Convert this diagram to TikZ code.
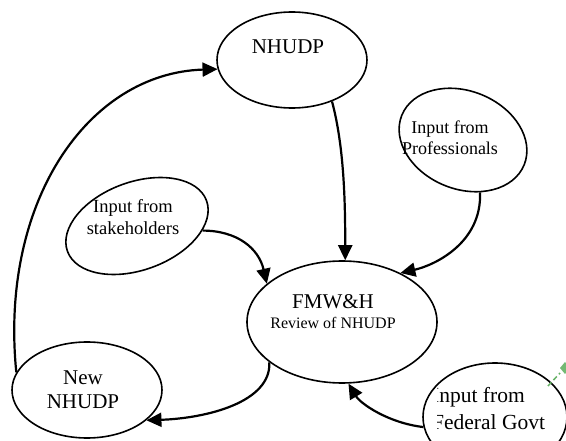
\documentclass[tikz,border=0pt]{standalone}
\usepackage{fontspec}
\setmainfont{Liberation Serif}
\usetikzlibrary{shapes.geometric,arrows.meta}
\tikzset{
  ell/.style={draw, ellipse, line width=1.6pt, inner sep=0pt, fill=white},
  conn/.style={line width=2.2pt, -{Triangle[length=15pt,width=14pt]}},
  lbl/.style={inner sep=0pt, align=center},
}
\begin{document}
\begin{tikzpicture}[x=1pt,y=-1pt]
\clip (0,0) rectangle (566,441);
\fill[white] (0,0) rectangle (566,441);
% ellipses
\node[ell, minimum width=150pt, minimum height=96pt] (nh) at (292,60) {};
\node[ell, minimum width=132pt, minimum height=98pt, rotate=-22] (prof) at (463,140) {};
\node[ell, minimum width=148pt, minimum height=88pt, rotate=20] (stk) at (137,226) {};
\node[ell, minimum width=190pt, minimum height=122pt] (fmw) at (342,322) {};
\node[ell, minimum width=150pt, minimum height=96pt] (new) at (87,390) {};
\node[ell, minimum width=144pt, minimum height=108pt] (fed) at (495,417) {};
% labels
\node[lbl, font=\fontsize{21}{24}\selectfont] (tnh) at (288,47) {NHUDP};
\node[lbl, font=\fontsize{18}{21}\selectfont] (tprof) at (450,137.5) {Input from\\Professionals};
\node[lbl, font=\fontsize{18.5}{22}\selectfont] (tstk) at (133,217) {Input from\\stakeholders};
\node[lbl, font=\fontsize{21}{24}\selectfont] (tnew) at (83,390) {New\\NHUDP};
\node[lbl, font=\fontsize{21}{21}\selectfont] (tfmw) at (333,302) {FMW\&H};
\node[lbl, font=\fontsize{16}{16}\selectfont] (trev) at (333,323) {Review of NHUDP};
\begin{scope}
\clip (437.5,360) rectangle (566,441);
\node[inner sep=0pt, align=left, anchor=west, font=\fontsize{21.5}{27}\selectfont] (tfed) at (432,408.5) {Input from\\Federal Govt};
\end{scope}
% small green mark
\draw[green!50!black!60, line width=1.5pt, dashed, dash pattern=on 5pt off 3pt] (548,386) -- (560,373);
\fill[green!50!black!55] (565,362) -- (570,368) -- (565,374) -- (560,368) -- cycle;
% connectors
\draw[conn] (nh.314) .. controls +(12,45) and +(0,-60) .. (fmw.87);
\draw[conn] (prof.310) .. controls +(2,50) and +(35,-8) .. (fmw.40);
\draw[conn] (stk.336) .. controls +(35,0) and +(-8,-35) .. (fmw.153);
\draw[conn] (fed.188) .. controls +(-35,-4) and +(12,20) .. (fmw.276);
\draw[conn] (fmw.209) .. controls +(2,40) and +(60,-2) .. (new.333);
\draw[conn] (new.166) .. controls +(-17,-170) and +(-130,4) .. (nh.187);
\end{tikzpicture}
\end{document}
